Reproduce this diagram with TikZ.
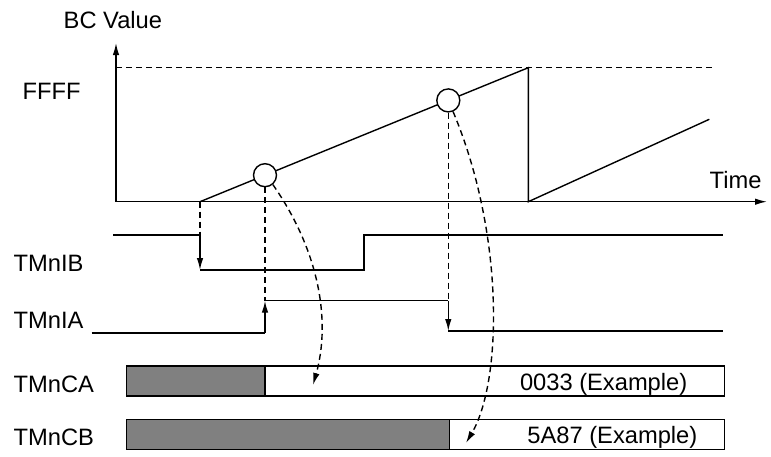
\documentclass[tikz,border=0pt]{standalone}
\usepackage{fontspec}
\setmainfont{Liberation Sans}
\usetikzlibrary{arrows.meta,positioning}
\definecolor{bargray}{RGB}{128,128,128}

\begin{document}
\begin{tikzpicture}[x=1pt, y=-1pt, line width=1.4pt,
    lbl/.style={anchor=base west, inner sep=0pt, font=\fontsize{23.7}{28}\selectfont},
    tip/.style={-{Latex[length=12pt,width=6.5pt]}},
    dsh/.style={dash pattern=on 6pt off 4pt},
    hit/.style={circle, draw, fill=white, minimum size=23pt, inner sep=0pt}]
    \useasboundingbox (0,0) rectangle (771,456);

    % Axes
    \draw[tip] (116,201.7) -- (116,43);
    \draw[tip] (116,201.7) -- (767,201.7);
    \draw[dsh] (116,67.7) -- (713,67.7);
    \node[lbl] (bcv) at (63,28.3) {BC Value};
    \node[lbl] (ffff) at (22,99.3) {FFFF};
    \node[lbl] (time) at (709,188.3) {Time};

    % Counter ramps
    \coordinate (start) at (200,201.7);
    \coordinate (peak) at (528.3,67.7);
    \coordinate (reset) at (528.3,201.7);
    \coordinate (ramp2) at (709.3,119.3);
    \draw (start) -- (peak) -- (reset) -- (ramp2);

    % Capture points
    \node[hit] (c1) at (265,175.2) {};
    \node[hit] (c2) at (448.3,100.4) {};

    % TMnIB
    \node[lbl] (ib) at (13,271.7) {TMnIB};
    \coordinate (ibfall) at (200,235);
    \coordinate (iblow) at (200,270);
    \draw (113.3,235) -- (ibfall);
    \draw (iblow) -- (364,270) -- (364,235) -- (722.7,235);
    \draw[dsh] (start) -- (ibfall);
    \draw[tip] (ibfall) -- (iblow);

    % TMnIA
    \node[lbl] (ia) at (13,328.3) {TMnIA};
    \coordinate (iarise) at (265,333);
    \coordinate (iahigh) at (265,300.7);
    \coordinate (iafall) at (448.3,300.7);
    \coordinate (ialow) at (448.3,331);
    \draw (91.7,333) -- (iarise);
    \draw (iahigh) -- (iafall);
    \draw (ialow) -- (722.7,331);
    \draw[dsh] (c1.south) -- (iahigh);
    \draw[dsh] (c2.south) -- (iafall);
    \draw[tip] (iarise) -- (iahigh);
    \draw[tip] (iafall) -- (ialow);

    % Capture registers
    \node[lbl] (ca) at (13,392.7) {TMnCA};
    \node[lbl] (cb) at (13,445) {TMnCB};
    \draw[fill=white] (126.7,366) rectangle (724.3,396);
    \draw[fill=bargray] (126.7,366) rectangle (265,396);
    \draw[fill=white] (126.7,419.3) rectangle (724.3,449.3);
    \draw[fill=bargray] (126.7,419.3) rectangle (449.3,449.3);
    \node[lbl] (cav) at (519.3,390.7) {0033 (Example)};
    \node[lbl] (cbv) at (526.7,443.3) {5A87 (Example)};

    % Transfers
    \coordinate (cain) at (313,385);
    \coordinate (cbin) at (466,443);
    \draw[dsh, tip] (c1.-50) .. controls (322,255) and (330,325) .. (cain);
    \draw[dsh, tip] (c2.-67) .. controls (505,235) and (502,382) .. (cbin);
\end{tikzpicture}
\end{document}
